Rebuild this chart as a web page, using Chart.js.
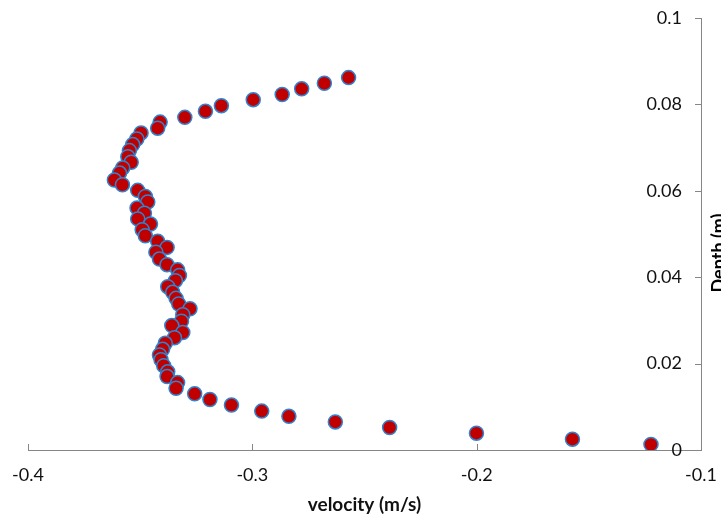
<!DOCTYPE html>
<html><head><meta charset="utf-8">
<script src="https://cdn.jsdelivr.net/npm/chart.js@4/dist/chart.umd.min.js"></script>
<style>html,body{margin:0;padding:0;background:#fff;overflow:hidden}</style>
</head><body>
<canvas id="c" width="721" height="520"></canvas>
<script>
const velocity = [
  -0.2571,-0.2679,-0.2780,-0.2867,-0.2996,-0.3138,-0.3209,-0.3301,-0.3411,-0.3422,
  -0.3496,-0.3515,-0.3533,-0.3548,-0.3555,-0.3540,-0.3578,-0.3592,-0.3615,-0.3579,
  -0.3511,-0.3477,-0.3466,-0.3514,-0.3481,-0.3511,-0.3454,-0.3491,-0.3477,-0.3422,
  -0.3380,-0.3430,-0.3414,-0.3380,-0.3333,-0.3325,-0.3343,-0.3377,-0.3355,-0.3340,
  -0.3328,-0.3278,-0.3310,-0.3316,-0.3359,-0.3310,-0.3347,-0.3388,-0.3400,-0.3414,
  -0.3407,-0.3395,-0.3377,-0.3380,-0.3333,-0.3340,-0.3257,-0.3189,-0.3093,-0.2958,
  -0.2837,-0.2630,-0.2388,-0.2001,-0.1573,-0.1223
];
const depth = [
  0.0862,0.0849,0.0836,0.0823,0.0811,0.0797,0.0784,0.0770,0.0759,0.0745,
  0.0734,0.0720,0.0707,0.0693,0.0679,0.0666,0.0653,0.0641,0.0625,0.0614,
  0.0601,0.0587,0.0574,0.0560,0.0548,0.0535,0.0523,0.0510,0.0496,0.0483,
  0.0469,0.0458,0.0442,0.0429,0.0417,0.0404,0.0392,0.0378,0.0365,0.0351,
  0.0338,0.0327,0.0313,0.0298,0.0288,0.0272,0.0260,0.0247,0.0233,0.0220,
  0.0209,0.0195,0.0181,0.0170,0.0156,0.0143,0.0130,0.0117,0.0104,0.0090,
  0.0078,0.0065,0.0052,0.0039,0.0025,0.0013
];
const xTicks = [-0.4, -0.3, -0.2, -0.1];
const xTickLabels = ['-0.4', '-0.3', '-0.2', '-0.1'];
const yTicks = [0, 0.02, 0.04, 0.06, 0.08, 0.1];
const yTickLabels = ['0', '0.02', '0.04', '0.06', '0.08', '0.1'];
const xTitle = 'velocity (m/s)';
const yTitle = 'Depth (m)';

const FONT = 'Lato, "Liberation Sans", sans-serif';
const AXIS = '#868686';

const innerTicks = {
  id: 'innerTicks',
  afterDraw(chart) {
    const ctx = chart.ctx, xs = chart.scales.x, ys = chart.scales.y, a = chart.chartArea;
    ctx.save();
    ctx.strokeStyle = AXIS; ctx.lineWidth = 1;
    ctx.beginPath();
    xs.ticks.forEach(t => { const px = Math.round(xs.getPixelForValue(t.value)) + 0.5; ctx.moveTo(px, a.bottom); ctx.lineTo(px, a.bottom - 6); });
    ys.ticks.forEach(t => { const py = Math.round(ys.getPixelForValue(t.value)) + 0.5; ctx.moveTo(a.right, py); ctx.lineTo(a.right - 6, py); });
    ctx.stroke();
    // y tick labels (inside, left of the right-hand axis)
    ctx.font = '18px ' + FONT;
    ctx.fillStyle = '#111';
    ctx.textAlign = 'right';
    ctx.textBaseline = 'middle';
    yTicks.forEach((v, i) => { ctx.fillText(yTickLabels[i], a.right - 19, ys.getPixelForValue(v)); });
    // y axis title, reading bottom to top, partly cut by the canvas edge
    ctx.translate(a.right + 24, 253);
    ctx.rotate(-Math.PI / 2);
    ctx.font = 'bold 18px ' + FONT;
    ctx.fillStyle = '#000';
    ctx.textAlign = 'center';
    ctx.textBaseline = 'alphabetic';
    ctx.fillText(yTitle, 0, 0);
    ctx.restore();
  }
};

new Chart(document.getElementById('c'), {
  type: 'scatter',
  data: {
    datasets: [{
      data: velocity.map((v, i) => ({ x: v, y: depth[i] })),
      backgroundColor: '#C00000',
      borderColor: '#2F83CF',
      borderWidth: 1.5,
      pointRadius: 7,
      pointHoverRadius: 7
    }]
  },
  options: {
    responsive: false,
    animation: false,
    devicePixelRatio: 1,
    layout: { padding: { left: 28, right: 20, top: 18, bottom: 0 } },
    plugins: { legend: { display: false }, tooltip: { enabled: false } },
    scales: {
      x: {
        type: 'linear', position: 'bottom',
        min: xTicks[0], max: xTicks[xTicks.length - 1],
        afterBuildTicks: s => { s.ticks = xTicks.map(v => ({ value: v })); },
        afterFit: s => { s.height = 70; s.paddingLeft = 0; s.paddingRight = 0; },
        grid: { display: false },
        border: { display: true, color: AXIS, width: 1 },
        ticks: { padding: 6, color: '#111', font: { family: FONT, size: 18 }, maxRotation: 0,
                 callback: (v, i) => xTickLabels[i] },
        title: { display: true, text: xTitle, color: '#111', font: { family: FONT, size: 19, weight: 'bold' }, padding: { top: 0, bottom: 4 } }
      },
      y: {
        type: 'linear', position: 'right',
        min: yTicks[0], max: yTicks[yTicks.length - 1],
        afterBuildTicks: s => { s.ticks = yTicks.map(v => ({ value: v })); },
        afterFit: s => { s.width = 0; s.paddingTop = 0; s.paddingBottom = 0; },
        grid: { display: false },
        border: { display: true, color: AXIS, width: 1 },
        ticks: { display: false }
      }
    }
  },
  plugins: [innerTicks]
});
</script>
</body></html>
